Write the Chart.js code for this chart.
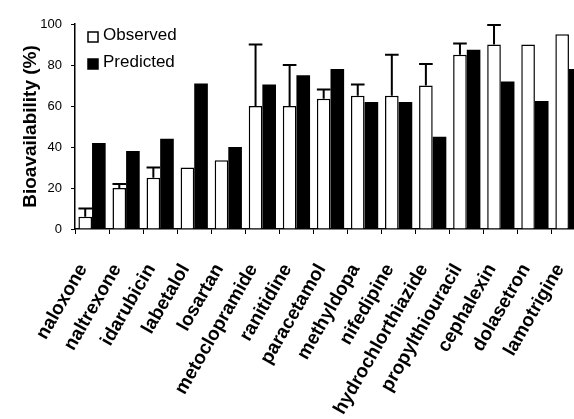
<!DOCTYPE html>
<html lang="en">
<head>
    <meta charset="UTF-8">
    <title>Bioavailability</title>
    <script src="https://cdn.jsdelivr.net/npm/chart.js"></script>
    <style>
        html, body { margin: 0; padding: 0; background: #fff; overflow: hidden; }
        .chart-box { position: relative; width: 590px; height: 419px; }
    </style>
</head>
<body>
    <div class="chart-box">
        <canvas id="bioChart"></canvas>
    </div>

    <script>
        // data
        const drugs = ["naloxone", "naltrexone", "idarubicin", "labetalol", "losartan",
            "metoclopramide", "ranitidine", "paracetamol", "methyldopa", "nifedipine",
            "hydrochlorthiazide", "propylthiouracil", "cephalexin", "dolasetron", "lamotrigine"];
        const observed = [6, 20, 25, 30, 33.5, 60, 60, 63.5, 65, 65, 70, 85, 90, 90, 95];
        const predicted = [42, 38, 44, 71, 40, 70.5, 75, 78, 62, 62, 45, 87.5, 72, 62.5, 78];
        // upper end of the error bar on the observed values (null = none)
        const observedUpper = [10, 22, 30, null, null, 90, 80, 68, 70.5, 85, 80.5, 90.5, 99.5, null, null];
        const yTicks = [0, 20, 40, 60, 80, 100];

        const font = "'Liberation Sans', Arial, sans-serif";

        // error bars drawn through the y scale
        const errorBars = {
            id: "errorBars",
            afterDatasetsDraw(chart) {
                const ctx = chart.ctx;
                const meta = chart.getDatasetMeta(0);
                const y = chart.scales.y;
                ctx.save();
                ctx.strokeStyle = "#000";
                ctx.lineWidth = 2;
                meta.data.forEach((bar, i) => {
                    if (observedUpper[i] == null) return;
                    const top = y.getPixelForValue(observedUpper[i]);
                    const half = bar.width / 2;
                    ctx.beginPath();
                    ctx.moveTo(bar.x, bar.y);
                    ctx.lineTo(bar.x, top);
                    ctx.moveTo(bar.x - half, top);
                    ctx.lineTo(bar.x + half, top);
                    ctx.stroke();
                });
                ctx.restore();
            }
        };

        // legend sits inside the plot, top left
        const insideLegend = {
            id: "insideLegend",
            afterDraw(chart) {
                const ctx = chart.ctx;
                const a = chart.chartArea;
                ctx.save();
                ctx.font = "17px " + font;
                ctx.textBaseline = "middle";
                chart.data.datasets.forEach((ds, i) => {
                    const x = a.left + 13;
                    const yc = a.top + 11 + i * 27;
                    ctx.fillStyle = i === 0 ? "#fff" : "#000";
                    ctx.fillRect(x, yc - 3, 10, 10);
                    ctx.strokeStyle = "#000";
                    ctx.lineWidth = 1.5;
                    ctx.strokeRect(x, yc - 3, 10, 10);
                    ctx.fillStyle = "#000";
                    ctx.fillText(ds.label, x + 15, yc);
                });
                ctx.restore();
            }
        };

        new Chart(document.getElementById("bioChart"), {
            type: "bar",
            data: {
                labels: drugs,
                datasets: [
                    {
                        label: "Observed",
                        data: observed,
                        backgroundColor: "#fff",
                        borderColor: "#000",
                        borderWidth: 1.5,
                        categoryPercentage: 0.8,
                        barPercentage: 1.0
                    },
                    {
                        label: "Predicted",
                        data: predicted,
                        backgroundColor: "#000",
                        borderColor: "#000",
                        borderWidth: 0,
                        categoryPercentage: 0.8,
                        barPercentage: 1.0
                    }
                ]
            },
            options: {
                responsive: true,
                maintainAspectRatio: false,
                animation: false,
                layout: { padding: { top: 24, right: 4, left: 0, bottom: 0 } },
                plugins: {
                    legend: { display: false },
                    tooltip: { enabled: false }
                },
                scales: {
                    x: {
                        offset: true,
                        grid: { offset: true, drawOnChartArea: false, drawTicks: true, tickLength: 5, color: "#000", lineWidth: 1 },
                        border: { display: true, color: "#000", width: 1.5 },
                        ticks: {
                            color: "#000",
                            font: { family: font, size: 19, weight: "bold" },
                            minRotation: 60,
                            maxRotation: 60,
                            autoSkip: false,
                            padding: 26,
                            labelOffset: -9
                        },
                        afterFit: (scale) => {
                            scale.height = 190;
                            // the last label is cut off in the original, no room kept for it
                            scale.paddingLeft = 0;
                            scale.paddingRight = 0;
                        }
                    },
                    y: {
                        min: 0,
                        max: 100,
                        afterBuildTicks: (scale) => { scale.ticks = yTicks.map(v => ({ value: v })); },
                        grid: { drawOnChartArea: false, drawTicks: true, tickLength: 4, color: "#000" },
                        border: { display: true, color: "#000", width: 1.5 },
                        ticks: {
                            color: "#000",
                            font: { family: font, size: 13 },
                            padding: 9
                        },
                        title: {
                            display: true,
                            text: "Bioavailability (%)",
                            color: "#000",
                            font: { family: font, size: 19, weight: "bold" },
                            padding: { top: 19, bottom: 0 }
                        },
                        afterFit: (scale) => { scale.width = 75; }
                    }
                }
            },
            plugins: [errorBars, insideLegend]
        });
    </script>
</body>
</html>
